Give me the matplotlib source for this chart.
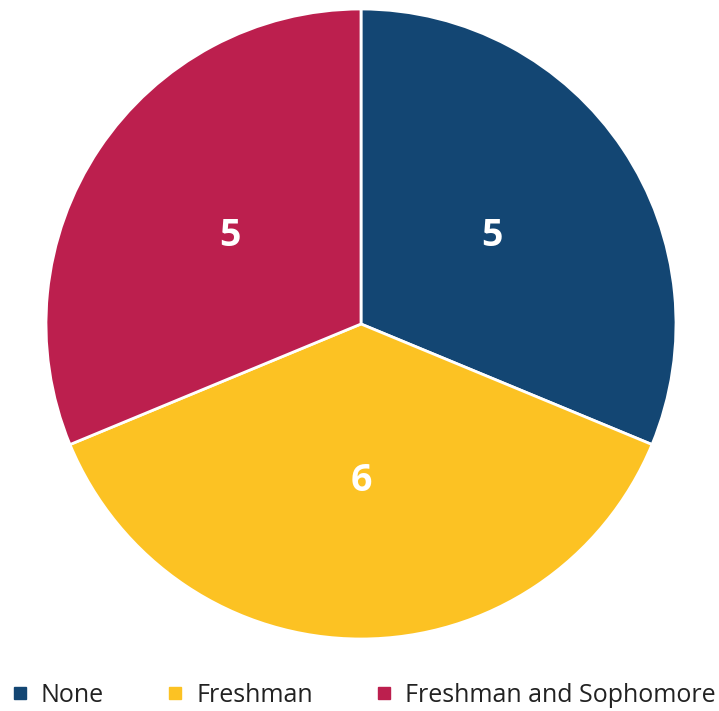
import matplotlib
matplotlib.use("Agg")
import matplotlib.pyplot as plt
from matplotlib.lines import Line2D

categories = ["None", "Freshman", "Freshman and Sophomore"]
values = [5, 6, 5]
colors = ["#134673", "#FCC223", "#BC1F4E"]

plt.rcParams['font.family'] = ['Open Sans', 'DejaVu Sans']

fig = plt.figure(figsize=(7.19, 7.11), dpi=100)
ax = fig.add_axes([46/719, 72/711, 630/719, 630/711])
wedges, texts = ax.pie(values, colors=colors, startangle=90, counterclock=False,
                       labels=[str(v) for v in values], labeldistance=0.5,
                       wedgeprops=dict(edgecolor="white", linewidth=2),
                       textprops=dict(color="white", fontsize=27, fontweight="bold",
                                      ha="center", va="center"))
ax.set_xlim(-1, 1)
ax.set_ylim(-1, 1)
ax.set_aspect("equal")
ax.axis("off")

handles = [Line2D([0], [0], marker="s", color="none", markerfacecolor=c,
                  markeredgecolor=c, markersize=9) for c in colors]
fig.legend(handles, categories, loc="center", bbox_to_anchor=(0.506, 0.022),
           ncol=3, frameon=False, fontsize=18, handlelength=0.6,
           handletextpad=0.54, columnspacing=2.55, labelcolor="#222222",
           borderpad=0, borderaxespad=0)

fig.savefig("out.png", dpi=100)
